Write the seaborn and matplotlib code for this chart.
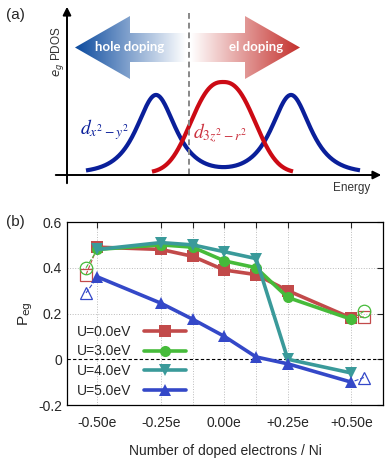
import numpy as np
import pandas as pd
import seaborn as sns
import matplotlib.pyplot as plt
from matplotlib.patches import Polygon

sns.set_style("white")
plt.rcParams['font.family'] = ['Liberation Sans', 'DejaVu Sans']

# ---- panel (b) data ----
doping = [-0.5, -0.25, -0.125, 0.0, 0.125, 0.25, 0.5]
p_u0 = [0.49, 0.48, 0.45, 0.39, 0.37, 0.30, 0.18]
p_u3 = [0.48, 0.50, 0.49, 0.43, 0.40, 0.27, 0.175]
p_u4 = [0.48, 0.51, 0.50, 0.47, 0.44, 0.00, -0.06]
p_u5 = [0.36, 0.245, 0.175, 0.10, 0.01, -0.02, -0.10]
labels = ["U=0.0eV", "U=3.0eV", "U=4.0eV", "U=5.0eV"]
colors = ["#c24a4a", "#46bb3a", "#3a9a9a", "#3448c8"]
markers = ["s", "o", "v", "^"]

# open symbols (extrapolated ends)
open_x = [-0.545, 0.55]
open_u0 = [0.37, 0.185]
open_u3 = [0.40, 0.21]
open_u5 = [0.29, -0.08]

xticks = [-0.5, -0.25, 0.0, 0.25, 0.5]
xticklabels = ["-0.50e", "-0.25e", "0.00e", "+0.25e", "+0.50e"]

# ---- panel (a) schematic: peak centres / heights / widths (pixel space) ----
blue_peaks = [156, 291]
blue_height = 78
blue_width = 17
red_peak = 223
red_height = 91
red_width = 40
baseline = 173

fig = plt.figure(figsize=(3.9, 4.61), dpi=100)

# ================= panel (a) =================
axa = fig.add_axes([0, (461 - 192) / 461, 1, 192 / 461])
axa.set_xlim(0, 390)
axa.set_ylim(192, 0)
axa.axis("off")

xb = np.linspace(86, 360, 400)
yb = sum(1 / np.cosh((xb - c) / blue_width) for c in blue_peaks)
axa.plot(xb, baseline - blue_height * yb, color="#0a1f9a", lw=3.0, solid_capstyle="butt")
xr = np.linspace(152, 293, 300)
yr = np.exp(-np.abs((xr - red_peak) / red_width) ** 2.5)
axa.plot(xr, baseline - red_height * yr, color="#cc0a14", lw=3.0, solid_capstyle="butt")

# axes arrows
axa.annotate("", xy=(67, 4), xytext=(67, 186),
             arrowprops=dict(arrowstyle="-|>", color="black", lw=1.4, mutation_scale=12))
axa.annotate("", xy=(384, 175), xytext=(53, 175),
             arrowprops=dict(arrowstyle="-|>", color="black", lw=1.4, mutation_scale=12))
axa.plot([189, 189], [13, 175], color="#888888", lw=1.4, ls=(0, (3, 2)))

# gradient arrows
def grad_arrow(pts, x0, x1, c_from, c_to):
    poly = Polygon(pts, closed=True, facecolor="none", edgecolor="none")
    axa.add_patch(poly)
    n = 256
    c0 = np.array(plt.matplotlib.colors.to_rgb(c_from))
    c1 = np.array(plt.matplotlib.colors.to_rgb(c_to))
    t = np.linspace(0, 1, n)[None, :, None]
    img = c0 + (c1 - c0) * t
    im = axa.imshow(img, extent=[x0, x1, 80, 15], aspect="auto", interpolation="bilinear")
    im.set_clip_path(poly)

grad_arrow([(75, 47.5), (130, 16), (130, 33), (186, 33), (186, 62), (130, 62), (130, 79)],
           75, 186, "#0b4a9e", "#ffffff")
grad_arrow([(191, 33), (245, 33), (245, 16), (300, 47.5), (245, 79), (245, 62), (191, 62)],
           191, 300, "#ffffff", "#c4302c")
axa.set_xlim(0, 390)
axa.set_ylim(192, 0)

axa.text(130, 47, "hole doping", color="white", fontsize=9.5, fontweight="bold",
         family=["Lato", "DejaVu Sans"], ha="center", va="center")
axa.text(256, 47, "el doping", color="white", fontsize=9.5, fontweight="bold",
         family=["Lato", "DejaVu Sans"], ha="center", va="center")
axa.text(80, 130, r"$d_{x^2-y^2}$", color="#0a1f9a", fontsize=14,
         math_fontfamily="stix", ha="left", va="center")
axa.text(193, 133, r"$d_{3z^2-r^2}$", color="#cc3340", fontsize=14,
         math_fontfamily="stix", ha="left", va="center")
axa.text(57, 52, r"$e_g$ PDOS", color="#333333", fontsize=8.5, rotation=90,
         ha="center", va="center")
axa.text(352, 188, "Energy", color="#333333", fontsize=8.5, ha="center", va="center")
axa.text(6, 15, "(a)", fontsize=11, ha="left", va="center")

# ================= panel (b) =================
axb = fig.add_axes([67 / 390, (461 - 405) / 461, 316 / 390, 183 / 461])
series = [p_u0, p_u3, p_u4, p_u5]
df = pd.DataFrame({
    "x": doping * 4,
    "P": sum(series, []),
    "U": sum([[lab] * len(doping) for lab in labels], []),
})
for x in doping:
    axb.axvline(x, color="#bbbbbb", lw=0.7, ls=":", zorder=0)
for y in [0.2, 0.4]:
    axb.axhline(y, color="#bbbbbb", lw=0.7, ls=":", zorder=0)
axb.axhline(0, color="black", lw=0.8, ls=(0, (3, 2)), zorder=1)

# open markers and dashed connectors
for vals, col, mk in [(open_u0, colors[0], "s"), (open_u3, colors[1], "o"), (open_u5, colors[3], "^")]:
    fill = {"s": 0, "o": 1, "^": 3}[mk]
    filled = series[fill]
    axb.plot([open_x[0], doping[0]], [vals[0], filled[0]], color=col, lw=0.8, ls="--", zorder=2)
    axb.plot([open_x[1], doping[-1]], [vals[1], filled[-1]], color=col, lw=0.8, ls="--", zorder=2)
    axb.plot(open_x, vals, ls="none", marker=mk, mfc="none", mec=col, mew=0.9, ms=9, zorder=2)

sns.lineplot(data=df, x="x", y="P", hue="U", style="U", palette=colors,
             markers=markers, dashes=False, lw=2.6, markersize=8,
             markeredgewidth=0, ax=axb, zorder=3)

axb.set_xlim(-0.62, 0.625)
axb.set_ylim(-0.2, 0.6)
axb.set_xticks(xticks)
axb.set_xticklabels(xticklabels)
axb.set_xticks([-0.125, 0.125], minor=True)
axb.set_yticks([-0.2, 0, 0.2, 0.4, 0.6])
axb.set_yticklabels(["-0.2", "0", "0.2", "0.4", "0.6"])
axb.tick_params(axis="both", which="both", direction="in", top=True, right=True,
                length=4, width=0.8, labelsize=10)
axb.tick_params(axis="x", pad=8)
for s in axb.spines.values():
    s.set_linewidth(0.9)
    s.set_color("black")
axb.set_xlabel("Number of doped electrons / Ni", fontsize=10, labelpad=10)
axb.set_ylabel(r"P$_{\mathrm{eg}}$", fontsize=11, labelpad=2)
leg = axb.legend(loc="lower left", frameon=False, markerfirst=False, fontsize=10,
                 handlelength=3.0, handletextpad=0.9, labelspacing=0.42,
                 borderaxespad=0.1, bbox_to_anchor=(0.01, 0.0))
fig.text(6 / 390, 1 - 222 / 461, "(b)", fontsize=11, ha="left", va="center")

fig.savefig("out.png", dpi=100)
